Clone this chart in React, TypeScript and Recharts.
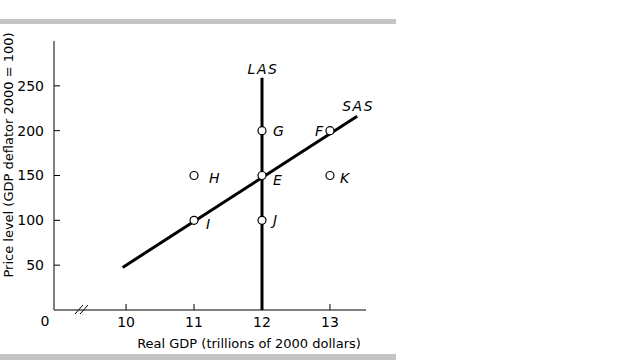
import React from "react"
import { ComposedChart, Line, Scatter, XAxis, YAxis, LabelList } from "recharts"

// tick labels
const gdpTicks = [10, 11, 12, 13]
const priceTicks = [50, 100, 150, 200, 250]

// labelled points
const pointNames = ["E", "F", "G", "H", "I", "J", "K"]
const pointGdp = [12, 13, 12, 11, 11, 12, 13]
const pointPrice = [150, 200, 200, 150, 100, 100, 150]

// long-run aggregate supply
const lasGdp = [12, 12]
const lasPrice = [0, 259]

// short-run aggregate supply
const sasGdp = [9.95, 13.4]
const sasPrice = [47.5, 216]

const points = pointNames.map((name, i) => ({ name, gdp: pointGdp[i], price: pointPrice[i] }))
const las = lasGdp.map((gdp, i) => ({ gdp, price: lasPrice[i] }))
const sas = sasGdp.map((gdp, i) => ({ gdp, price: sasPrice[i] }))

const font = "'DejaVu Sans', sans-serif"

// where each letter sits relative to its point: dx, dy, anchor
const letterPos: Record<string, [number, number, "start" | "end"]> = {
  E: [11, 5, "start"],
  F: [-7, 0, "end"],
  G: [11, 0, "start"],
  H: [15, 3, "start"],
  I: [12, 4, "start"],
  J: [11, 0, "start"],
  K: [10, 3, "start"],
}

const PointShape = (props: any) => {
  const { cx, cy, payload } = props
  const [dx, dy, anchor] = letterPos[payload.name]
  return (
    <g>
      <circle cx={cx} cy={cy} r={4} fill="#fff" stroke="#000" strokeWidth={1.2} />
      <text
        x={cx + dx}
        y={cy + dy}
        dy="0.35em"
        textAnchor={anchor}
        fontSize={14}
        fontStyle="italic"
        fontFamily={font}
        fill="#000"
      >
        {payload.name}
      </text>
    </g>
  )
}

const curveName = (name: string, dx: number, dy: number) => (props: any) => {
  const { x, y, index } = props
  if (index !== 1) return null
  return (
    <text
      x={x + dx}
      y={y + dy}
      textAnchor="middle"
      fontSize={14}
      fontStyle="italic"
      fontFamily={font}
      letterSpacing={1.5}
      fill="#000"
    >
      {name}
    </text>
  )
}

export default function App() {
  return (
    <div style={{ position: "absolute", left: 0, top: 0, width: 627, height: 360, background: "#fff" }}>
      <ComposedChart
        width={627}
        height={360}
        margin={{ top: 41, right: 261, bottom: 20, left: 14 }}
        style={{ fontFamily: font }}
      >
        <XAxis
          type="number"
          dataKey="gdp"
          domain={[8.94, 13.53]}
          ticks={gdpTicks}
          allowDataOverflow
          height={30}
          stroke="#000"
          tickSize={-6}
          tickMargin={13}
          tick={{ fill: "#000", fontSize: 14 }}
        />
        <YAxis
          type="number"
          dataKey="price"
          domain={[0, 300]}
          ticks={priceTicks}
          allowDataOverflow
          width={40}
          stroke="#000"
          tickSize={-6}
          tickMargin={16}
          tick={{ fill: "#000", fontSize: 14 }}
        />
        <Line
          data={las}
          dataKey="price"
          stroke="#000"
          strokeWidth={3}
          dot={false}
          isAnimationActive={false}
        >
          <LabelList dataKey="price" content={curveName("LAS", 1, -4)} />
        </Line>
        <Line
          data={sas}
          dataKey="price"
          stroke="#000"
          strokeWidth={3}
          dot={false}
          isAnimationActive={false}
        >
          <LabelList dataKey="price" content={curveName("SAS", 1, -5)} />
        </Line>
        <Scatter data={points} dataKey="price" shape={PointShape} isAnimationActive={false} />
      </ComposedChart>
      <svg
        width={627}
        height={360}
        style={{ position: "absolute", left: 0, top: 0, pointerEvents: "none" }}
        fontFamily={font}
      >
        <rect x={0} y={19} width={396} height={5} fill="#c4c4c4" />
        <rect x={0} y={354} width={396} height={6} fill="#c4c4c4" />
        <line x1={75} y1={314} x2={83} y2={305} stroke="#000" strokeWidth={1} />
        <line x1={80} y1={314} x2={88} y2={305} stroke="#000" strokeWidth={1} />
        <text x={45} y={326} textAnchor="middle" fontSize={14} fill="#000">0</text>
        <text x={249} y={348} textAnchor="middle" fontSize={13} fill="#000">
          Real GDP (trillions of 2000 dollars)
        </text>
        <text
          x={0}
          y={0}
          transform="translate(13 155) rotate(-90)"
          textAnchor="middle"
          fontSize={13}
          fill="#000"
        >
          Price level (GDP deflator 2000 = 100)
        </text>
      </svg>
    </div>
  )
}
